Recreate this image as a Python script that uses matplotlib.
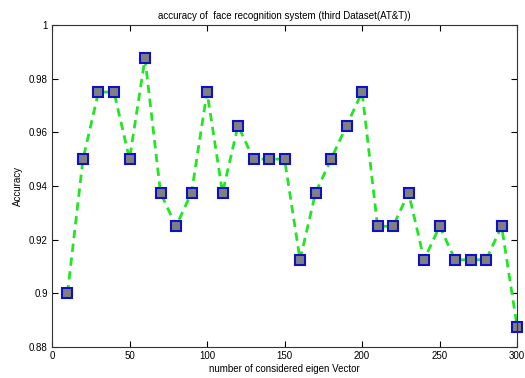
import matplotlib
matplotlib.use("Agg")
import matplotlib.pyplot as plt

# data
eigen_vectors = [10, 20, 30, 40, 50, 60, 70, 80, 90, 100,
                 110, 120, 130, 140, 150, 160, 170, 180, 190, 200,
                 210, 220, 230, 240, 250, 260, 270, 280, 290, 300]
accuracy = [0.9, 0.95, 0.975, 0.975, 0.95, 0.9875, 0.9375, 0.925, 0.9375, 0.975,
            0.9375, 0.9625, 0.95, 0.95, 0.95, 0.9125, 0.9375, 0.95, 0.9625, 0.975,
            0.925, 0.925, 0.9375, 0.9125, 0.925, 0.9125, 0.9125, 0.9125, 0.925, 0.8875]
x_ticks = [0, 50, 100, 150, 200, 250, 300]
y_ticks = [0.88, 0.9, 0.92, 0.94, 0.96, 0.98, 1]
y_tick_labels = ["0.88", "0.9", "0.92", "0.94", "0.96", "0.98", "1"]

plt.rcParams['font.family'] = ['Liberation Sans', 'DejaVu Sans']

fig = plt.figure(figsize=(5.25, 3.78), dpi=100)
ax = fig.add_axes([0.099, 0.082, 0.886, 0.852])

ax.plot(eigen_vectors, accuracy, linestyle='--', color='#22e622', linewidth=2,
        dashes=(3, 2), marker='s', markersize=7, markerfacecolor='#808080',
        markeredgecolor='#1010c8', markeredgewidth=1.5, clip_on=False)

ax.set_xlim(0, 300)
ax.set_ylim(0.88, 1)
ax.set_xticks(x_ticks)
ax.set_yticks(y_ticks)
ax.set_yticklabels(y_tick_labels)
ax.tick_params(direction='in', top=True, right=True, labelsize=7, length=4, width=0.8, pad=3)
for s in ax.spines.values():
    s.set_linewidth(0.8)
    s.set_color('#333333')

ax.set_title("accuracy of  face recognition system (third Dataset(AT&T))", fontsize=7, pad=4)
ax.set_xlabel("number of considered eigen Vector", fontsize=7, labelpad=2)
ax.set_ylabel("Accuracy", fontsize=7, labelpad=4)

fig.savefig("out.png", dpi=100)
